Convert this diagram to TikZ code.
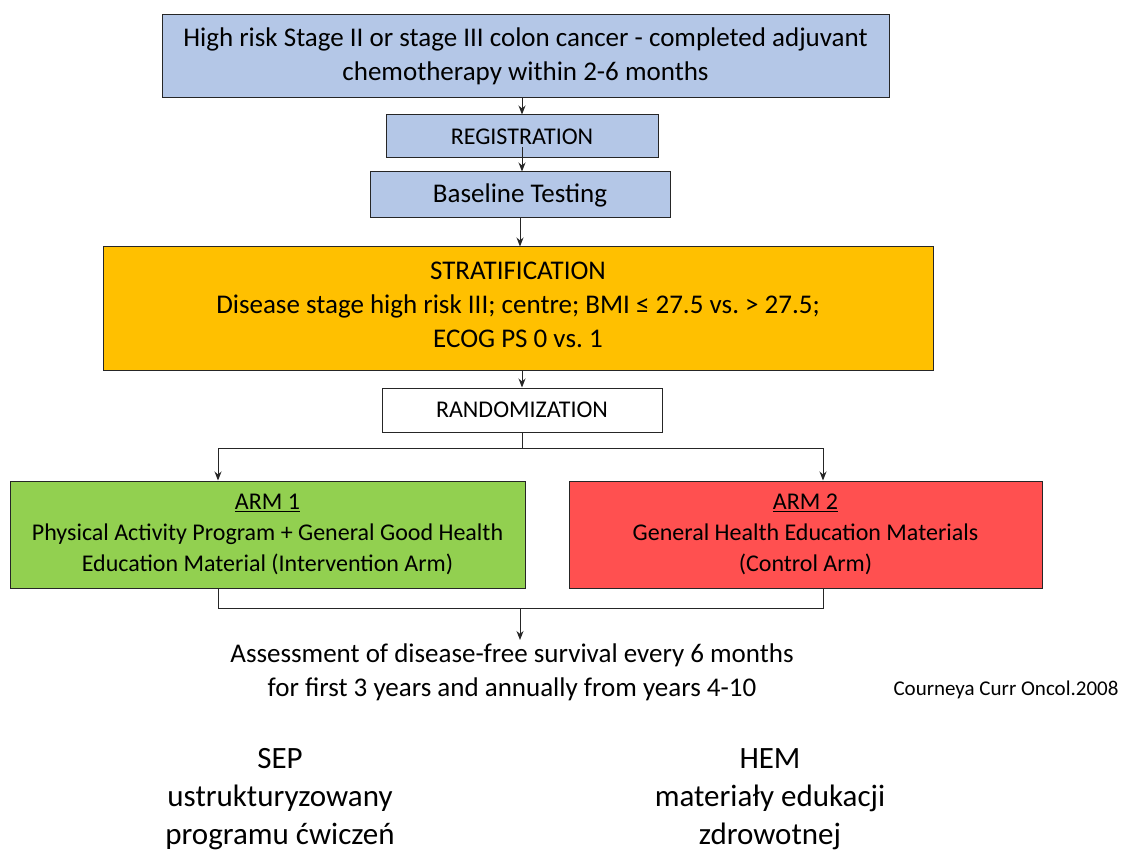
\documentclass[tikz,border=0pt]{standalone}
\usepackage{fontspec}
\setmainfont{Carlito}
\usetikzlibrary{arrows.meta, positioning}
\frenchspacing

\definecolor{boxblue}{HTML}{B4C7E7}
\definecolor{boxorange}{HTML}{FFC000}
\definecolor{boxgreen}{HTML}{92D050}
\definecolor{boxred}{HTML}{FF5050}

\begin{document}
\begin{tikzpicture}[
        x=1pt, y=-1pt,
        >={Stealth[length=9pt,width=7pt]},
        box/.style={draw=black!85, line width=1pt, align=center, inner sep=0pt},
        bluebox/.style={box, fill=boxblue},
        big/.style={font=\fontsize{27}{34}\selectfont},
        mid/.style={font=\fontsize{24}{31}\selectfont},
        note/.style={align=center, font=\fontsize{31}{38}\selectfont},
        link/.style={line width=1pt, draw=black!85}
    ]
    \useasboundingbox (0,0) rectangle (1122,853);

    % Caselle del flusso principale
    \node[bluebox, big, minimum width=727pt, minimum height=83pt] (elig) at (525.5,56)
        {High risk Stage II or stage III colon cancer - completed adjuvant\\chemotherapy within 2-6 months};
    \node[bluebox, mid, minimum width=272pt, minimum height=43pt] (reg) at (522,136.5) {REGISTRATION};
    \node[bluebox, big, minimum width=300pt, minimum height=46pt] (base) at (520,195) {Baseline Testing};
    \node[box, big, fill=boxorange, minimum width=830pt, minimum height=123pt] (strat) at (518,308.5)
        {STRATIFICATION\\Disease stage high risk III; centre; BMI ≤ 27.5 vs. > 27.5;\\ECOG PS 0 vs. 1\\[-26pt]\mbox{}};
    \node[box, mid, fill=white, minimum width=280pt, minimum height=44pt] (rand) at (522,410) {RANDOMIZATION};

    % Bracci dello studio
    \node[box, mid, fill=boxgreen, minimum width=515pt, minimum height=107pt] (arm1) at (267.5,534.5)
        {\underline{ARM 1}\\Physical Activity Program + General Good Health\\Education Material (Intervention Arm)};
    \node[box, mid, fill=boxred, minimum width=473pt, minimum height=107pt] (arm2) at (805.5,534.5)
        {\underline{ARM 2}\\General Health Education Materials\\(Control Arm)};

    % Testi finali
    \node[big, align=center, anchor=north] (assess) at (512,640)
        {Assessment of disease-free survival every 6 months\\for first 3 years and annually from years 4-10};
    \node[font=\fontsize{21}{25}\selectfont] (ref) at (1006,690) {Courneya Curr Oncol.2008};
    \node[note] (sep) at (280,799)
        {SEP\\ustrukturyzowany\\programu ćwiczeń};
    \node[note] (hem) at (770,799)
        {HEM\\materiały edukacji\\zdrowotnej};

    % Frecce
    \draw[link, ->] (elig.south -| reg) -- (reg.north);
    \draw[link, ->] ([yshift=11pt]reg.south) -- (reg.south |- base.north);
    \draw[link, ->] (base.south) -- (base.south |- strat.north);
    \draw[link, ->] (strat.south -| rand) -- (rand.north);

    \coordinate (a1) at (218,448);
    \coordinate (a2) at (823,448);
    \draw[link] (rand.south) -- (rand.south |- a1);
    \draw[link] (a1) -- (a2);
    \draw[link, ->] (a1) -- (a1 |- arm1.north);
    \draw[link, ->] (a2) -- (a2 |- arm2.north);

    \coordinate (b1) at (218,608);
    \coordinate (b2) at (823,608);
    \coordinate (join) at (520,608);
    \draw[link] (b1 |- arm1.south) -- (b1) -- (b2) -- (b2 |- arm2.south);
    \draw[link, ->] (join) -- (join |- assess.north);
\end{tikzpicture}
\end{document}
